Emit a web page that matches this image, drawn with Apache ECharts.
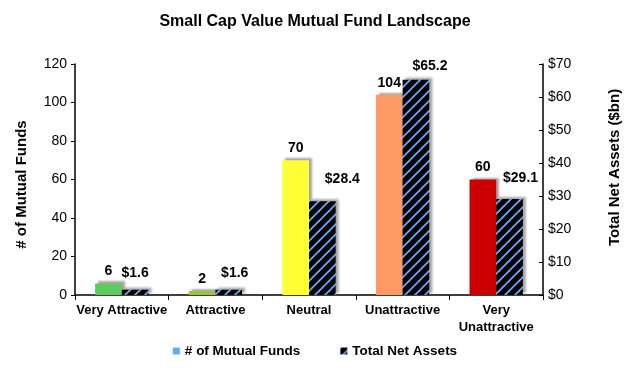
<!DOCTYPE html>
<html><head><meta charset="utf-8">
<script src="https://cdn.jsdelivr.net/npm/echarts@6/dist/echarts.min.js"></script>
<style>html,body{margin:0;padding:0;background:#fff}#c{width:630px;height:368px}</style>
</head><body><div id="c"></div>
<script>
const categories = ['Very Attractive', 'Attractive', 'Neutral', 'Unattractive', 'Very Unattractive'];
const fundCounts = [6, 2, 70, 104, 60];
const netAssets = [1.6, 1.6, 28.4, 65.2, 29.1];
const leftTicks = [0, 20, 40, 60, 80, 100, 120];
const rightTicks = [0, 10, 20, 30, 40, 50, 60, 70];

const barColors = ['#5ecb5e', '#99c63a', '#ffff33', '#ff9966', '#cc0000'];
const labelShift = [[0, -5], [6, -5], [20, -10], [14, -2], [11, -9]];

const pc = document.createElement('canvas');
pc.width = 10; pc.height = 10;
const g = pc.getContext('2d');
g.fillStyle = '#000'; g.fillRect(0, 0, 10, 10);
g.strokeStyle = '#66aaff'; g.lineWidth = 1.8;
[[-3, 13, 13, -3], [-3, 3, 3, -3], [7, 13, 13, 7]].forEach(s => {
  g.beginPath(); g.moveTo(s[0], s[1]); g.lineTo(s[2], s[3]); g.stroke();
});

const font = '"Liberation Sans", Arial, sans-serif';
const shadow = { shadowColor: 'rgba(0,0,0,0.35)', shadowBlur: 2, shadowOffsetX: 3, shadowOffsetY: -2 };

const chart = echarts.init(document.getElementById('c'), null, { renderer: 'canvas' });
chart.setOption({
  animation: false,
  title: { text: 'Small Cap Value Mutual Fund Landscape', left: 'center', top: 9,
    textStyle: { fontFamily: font, fontSize: 16, fontWeight: 'bold', color: '#000' } },
  legend: { bottom: 5, left: 'center', itemWidth: 7, itemHeight: 7, itemGap: 40, icon: 'rect',
    textStyle: { fontFamily: font, fontSize: 13.5, fontWeight: 'bold', color: '#000' },
    data: ['# of Mutual Funds', 'Total Net Assets'] },
  grid: { left: 75, right: 87, top: 64, bottom: 73 },
  xAxis: { type: 'category', data: categories,
    axisLine: { lineStyle: { color: '#000', width: 1.5 } },
    axisTick: { show: true, length: 5, lineStyle: { color: '#000' } },
    axisLabel: { interval: 0, fontFamily: font, fontSize: 13, fontWeight: 'bold', color: '#000', margin: 7, lineHeight: 17,
      formatter: v => v === 'Very Unattractive' ? 'Very\nUnattractive' : v } },
  yAxis: [
    { type: 'value', min: leftTicks[0], max: leftTicks[leftTicks.length - 1], interval: 20,
      name: '# of Mutual Funds', nameLocation: 'middle', nameGap: 46,
      nameTextStyle: { fontFamily: font, fontSize: 15, fontWeight: 'bold', color: '#000', padding: [0, 10, 0, 0] },
      axisLine: { show: true, lineStyle: { color: '#000', width: 1.5 } },
      axisTick: { show: true, length: 4, lineStyle: { color: '#000' } },
      splitLine: { show: false },
      axisLabel: { fontFamily: font, fontSize: 14, color: '#000', margin: 8 } },
    { type: 'value', min: rightTicks[0], max: rightTicks[rightTicks.length - 1], interval: 10,
      name: 'Total Net Assets ($bn)', nameLocation: 'middle', nameGap: 64, position: 'right',
      nameTextStyle: { fontFamily: font, fontSize: 15, fontWeight: 'bold', color: '#000', padding: [0, 0, 0, 24] },
      axisLine: { show: true, lineStyle: { color: '#000', width: 1.5 } },
      axisTick: { show: true, inside: true, length: 4, lineStyle: { color: '#000' } },
      splitLine: { show: false },
      axisLabel: { fontFamily: font, fontSize: 14, color: '#000', margin: 5, formatter: v => '$' + v } }
  ],
  series: [
    { name: '# of Mutual Funds', type: 'bar', yAxisIndex: 0, barGap: '0%', barCategoryGap: '43%',
      itemStyle: Object.assign({ color: '#66aaff' }, shadow),
      label: { show: true, position: 'top', distance: 5, fontFamily: font, fontSize: 14, fontWeight: 'bold', color: '#000' },
      data: fundCounts.map((v, i) => ({ value: v, itemStyle: { color: barColors[i] } })) },
    { name: 'Total Net Assets', type: 'bar', yAxisIndex: 1,
      itemStyle: Object.assign({ color: { image: pc, repeat: 'repeat' } }, shadow),
      label: { show: true, position: 'top', distance: 5, fontFamily: font, fontSize: 14, fontWeight: 'bold', color: '#000',
        formatter: p => '$' + p.value.toFixed(1) },
      data: netAssets.map((v, i) => ({ value: v, label: { offset: labelShift[i] } })) }
  ]
});
</script></body></html>
